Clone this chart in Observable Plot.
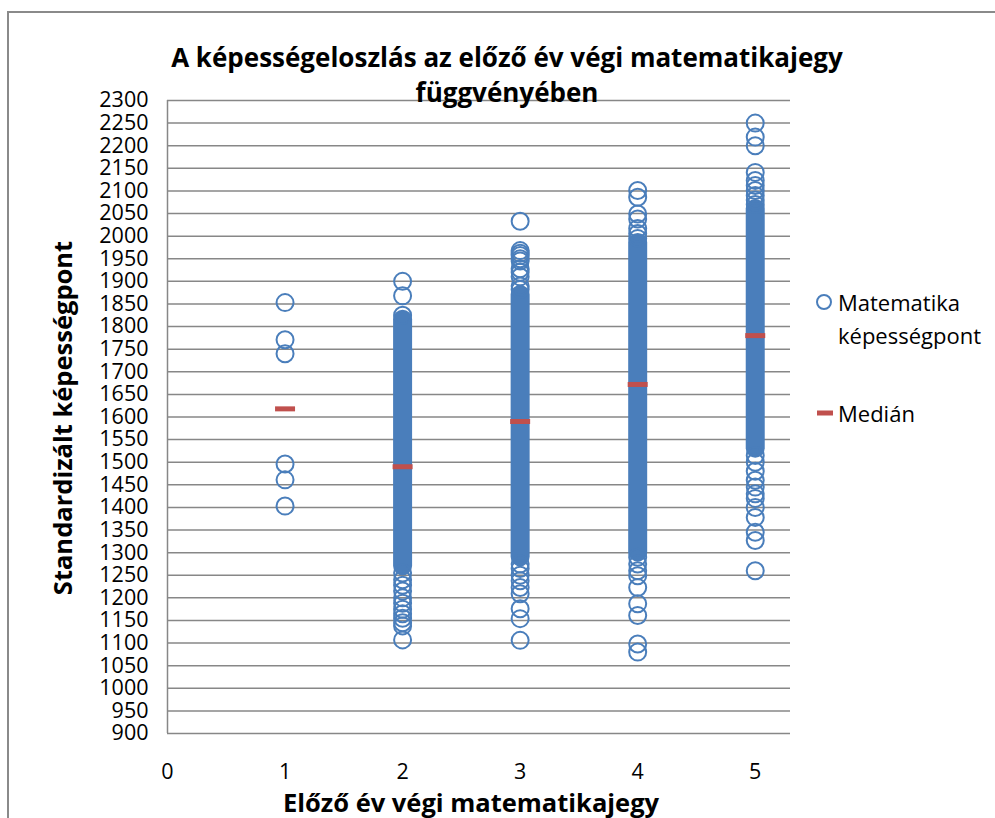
<!DOCTYPE html>
<html>
<head>
<meta charset="utf-8">
<script src="https://cdn.jsdelivr.net/npm/d3@7"></script>
<script src="https://cdn.jsdelivr.net/npm/@observablehq/plot@0.6"></script>
<style>
  html, body { margin: 0; padding: 0; background: #fff; }
  #wrap { position: relative; width: 995px; height: 818px; overflow: hidden; font-family: "Open Sans", sans-serif; }
  #frame { position: absolute; left: 7px; top: 11px; width: 1000px; height: 900px; border-left: 2px solid #8a8a8a; border-top: 2px solid #8a8a8a; box-sizing: border-box; }
  .t { position: absolute; white-space: nowrap; color: #000; }
  .title { font-weight: 700; font-size: 26px; left: 107px; width: 800px; text-align: center; line-height: 34px; }
  .axt { font-weight: 700; font-size: 25.5px; line-height: 30px; }
  .leg { font-size: 22px; left: 838px; line-height: 30px; }
  #chart { position: absolute; left: 0; top: 0; }
</style>
</head>
<body>
<div id="wrap">
  <div id="frame"></div>
  <div id="chart"></div>
  <div class="t title" style="top:40px;">A képességeloszlás az előző év végi matematikajegy</div>
  <div class="t title" style="top:75px;">függvényében</div>
  <div class="t axt" style="left:62px; top:418px; transform: translate(-50%,-50%) rotate(-90deg);">Standardizált képességpont</div>
  <div class="t axt" style="left:471px; top:802px; transform: translate(-50%,-50%);">Előző év végi matematikajegy</div>
  <svg class="t" style="left:814px; top:292px;" width="20" height="20"><circle cx="10" cy="10" r="7" fill="none" stroke="#4A7EBB" stroke-width="2"/></svg>
  <div class="t leg" style="top:287px;">Matematika</div>
  <div class="t leg" style="top:320px;">képességpont</div>
  <svg class="t" style="left:816px; top:408px;" width="20" height="10"><rect x="1" y="2.5" width="16" height="5" fill="#C0504D"/></svg>
  <div class="t leg" style="top:398px;">Medián</div>
</div>
<script>
// Grades (x) and y tick values
const grades = [1, 2, 3, 4, 5];
const yTicks = d3.range(900, 2301, 50);
const xTicks = [0, 1, 2, 3, 4, 5];

// Median ability score per grade
const medians = [1618, 1490, 1590, 1672, 1780];

// Dense, fully overlapping runs of circles (centre of lowest / highest circle in the run)
const bandGrade = [2, 3, 4, 5];
const bandLow  = [1270, 1290, 1300, 1530];
const bandHigh = [1815, 1870, 1985, 2060];

// Individually visible circles per grade
const g1 = [1853, 1771, 1740, 1496, 1461, 1403];
const g2 = [1900, 1868, 1825, 1255, 1240, 1228, 1215, 1200, 1188, 1175, 1165, 1155, 1145, 1138, 1107];
const g3 = [2033, 1968, 1962, 1957, 1950, 1945, 1928, 1920, 1910, 1890, 1882,
            1275, 1265, 1250, 1238, 1223, 1209, 1176, 1154, 1106];
const g4 = [2101, 2086, 2049, 2038, 2017, 2006, 1995,
            1290, 1275, 1260, 1249, 1223, 1187, 1161, 1098, 1080];
const g5 = [2250, 2219, 2200, 2141, 2123, 2112, 2101, 2090, 2080, 2070,
            1515, 1500, 1480, 1460, 1445, 1430, 1420, 1400, 1378, 1345, 1327, 1260];

const points = [g1, g2, g3, g4, g5].flatMap((arr, i) => arr.map(v => ({grade: grades[i], score: v})));
const bands = bandGrade.map((g, i) => ({grade: g, lo: bandLow[i], hi: bandHigh[i]}));
const meds = grades.map((g, i) => ({grade: g, score: medians[i]}));

const blue = "#4A7EBB";
const red = "#C0504D";
const dash = {draw(ctx) { ctx.rect(-10, -2.5, 20, 5); }};

const chart = Plot.plot({
  width: 995,
  height: 818,
  marginLeft: 167,
  marginRight: 205,
  marginTop: 100,
  marginBottom: 85,
  style: {fontFamily: "Open Sans, sans-serif", fontSize: "21px", color: "#000", background: "transparent", overflow: "visible"},
  x: {domain: [0, 5.3], ticks: xTicks, tickFormat: d => String(d), label: null},
  y: {domain: [900, 2300], ticks: yTicks, tickFormat: d => String(d), label: null},
  marks: [
    Plot.gridY(yTicks, {stroke: "#878787", strokeOpacity: 1, strokeWidth: 1.5}),
    Plot.ruleX([0], {stroke: "#878787", strokeWidth: 1.5}),
    Plot.axisY({ticks: yTicks, tickSize: 0, tickPadding: 19, tickFormat: d => String(d), fontSize: 21.5, label: null}),
    Plot.axisX({ticks: xTicks, tickSize: 0, tickPadding: 30, tickFormat: d => String(d), fontSize: 21.5, label: null}),
    Plot.ruleX(bands, {x: "grade", y1: "lo", y2: "hi", stroke: blue, strokeWidth: 19, strokeLinecap: "round"}),
    Plot.dot(points, {x: "grade", y: "score", r: 8.5, stroke: blue, strokeWidth: 2, fill: "none"}),
    Plot.dot(meds, {x: "grade", y: "score", symbol: dash, r: 5, fill: red, stroke: "none"})
  ]
});
document.getElementById("chart").appendChild(chart);
</script>
</body>
</html>
